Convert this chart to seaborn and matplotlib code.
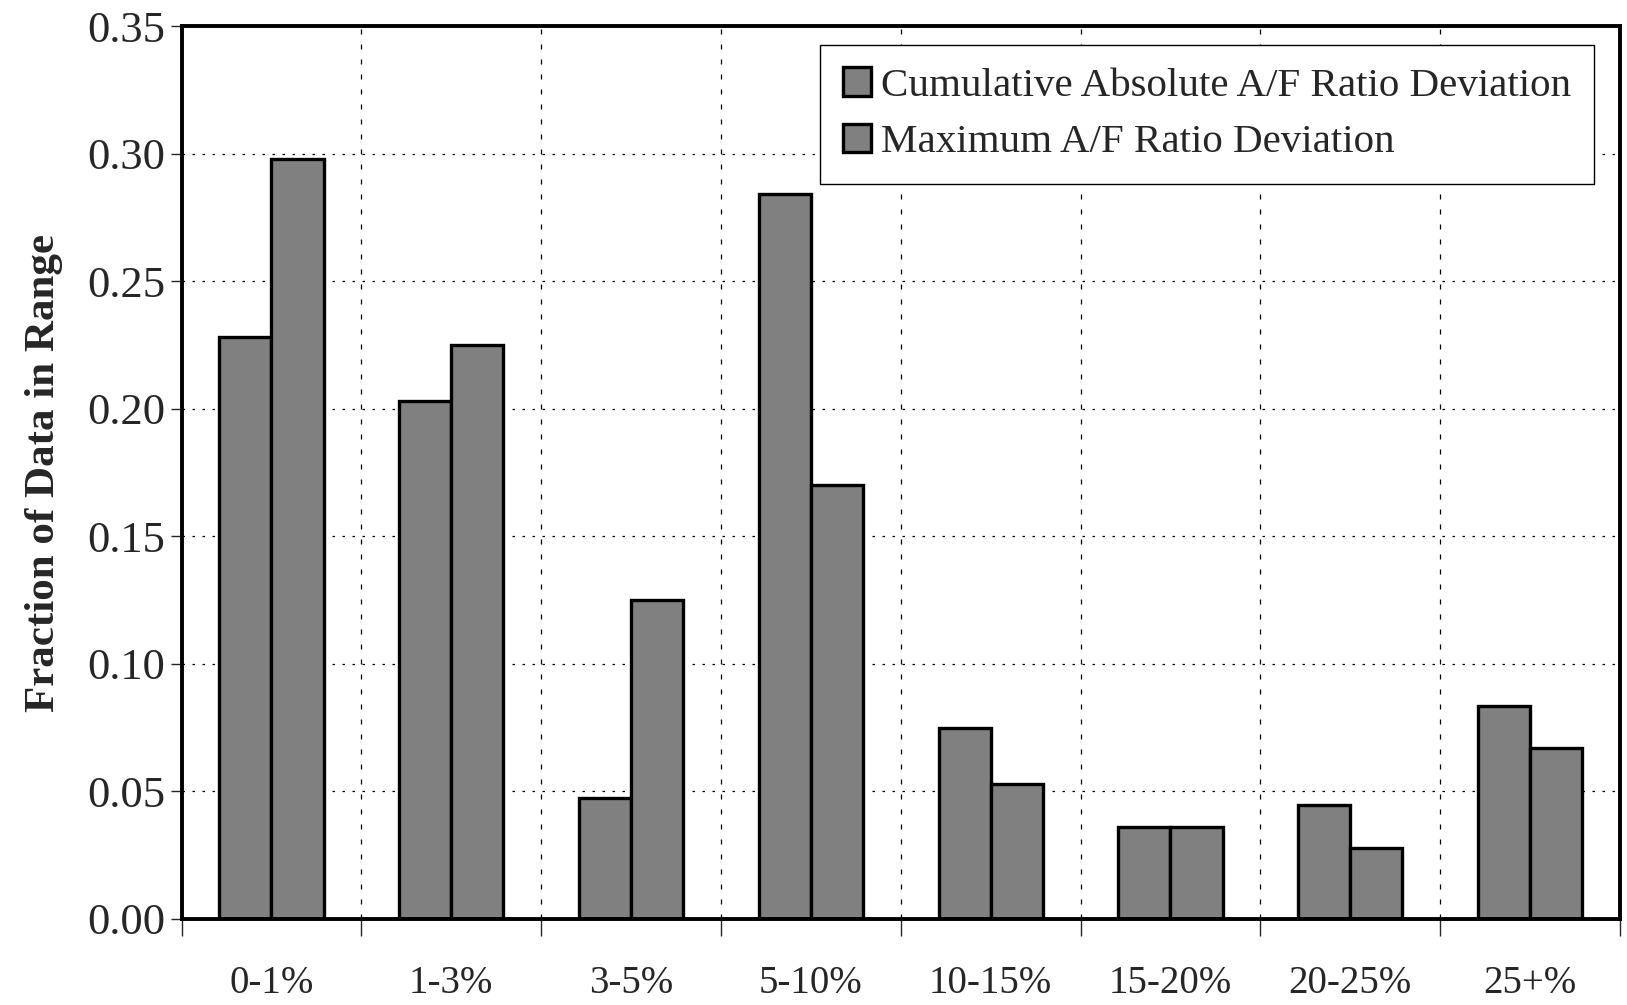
import numpy as np
import pandas as pd
import seaborn as sns
import matplotlib.pyplot as plt
from matplotlib.ticker import FixedLocator, NullFormatter

# data
ranges = ['0-1%', '1-3%', '3-5%', '5-10%', '10-15%', '15-20%', '20-25%', '25+%']
cumulative = [0.228, 0.203, 0.0475, 0.284, 0.075, 0.036, 0.0445, 0.0835]
maximum = [0.298, 0.225, 0.125, 0.170, 0.053, 0.036, 0.028, 0.067]
series = ['Cumulative Absolute A/F Ratio Deviation', 'Maximum A/F Ratio Deviation']
yticks = [0.00, 0.05, 0.10, 0.15, 0.20, 0.25, 0.30, 0.35]

df = pd.DataFrame({
    'range': ranges * 2,
    'value': cumulative + maximum,
    'series': [series[0]] * len(ranges) + [series[1]] * len(ranges),
})

sns.set_style('white')
plt.rcParams['font.family'] = ['Liberation Serif', 'DejaVu Serif']

fig = plt.figure(figsize=(16.27, 10.05), dpi=100)
ax = fig.add_axes([0.1116, 0.0856, 0.8841, 0.8884])

sns.barplot(data=df, x='range', y='value', hue='series', order=ranges,
            hue_order=series, palette=['#808080', '#808080'], width=0.58,
            gap=0, edgecolor='black', linewidth=2.4, saturation=1, ax=ax)

ax.set_xlim(-0.5, len(ranges) - 0.5)
ax.set_ylim(0, 0.35)

# y axis
ax.set_yticks(yticks)
ax.set_yticklabels(['%.2f' % v for v in yticks], fontsize=32)
ax.tick_params(axis='y', direction='out', length=8, width=1, left=True, pad=4)
ax.set_ylabel('Fraction of Data in Range', fontsize=31, fontweight='bold', labelpad=17)

# x axis: tick marks at category boundaries, labels at centres
bounds = np.arange(len(ranges) + 1) - 0.5
ax.xaxis.set_major_locator(FixedLocator(bounds))
ax.xaxis.set_major_formatter(NullFormatter())
ax.xaxis.set_minor_locator(FixedLocator(np.arange(len(ranges))))
ax.set_xticklabels(ranges, minor=True, fontsize=28)
ax.tick_params(axis='x', which='major', direction='out', length=12, width=1, bottom=True)
ax.tick_params(axis='x', which='minor', length=0, pad=33)
ax.set_xlabel('')

# dotted grid
ax.grid(True, axis='y', which='major', color='black', linestyle=(0, (2, 6)), linewidth=0.9)
ax.grid(True, axis='x', which='major', color='black', linestyle=(0, (4, 8)), linewidth=0.9)
ax.set_axisbelow(True)

for s in ax.spines.values():
    s.set_color('black')
    s.set_linewidth(2.8)

leg = ax.legend(loc='upper right', bbox_to_anchor=(0.982, 0.979), borderaxespad=0,
                fontsize=29.5, frameon=True, fancybox=False, edgecolor='black',
                framealpha=1, handlelength=0.7, handleheight=0.7,
                handletextpad=0.25, borderpad=0.55, labelspacing=0.45)
leg.get_frame().set_linewidth(1.0)

fig.savefig('out.png', dpi=100)
